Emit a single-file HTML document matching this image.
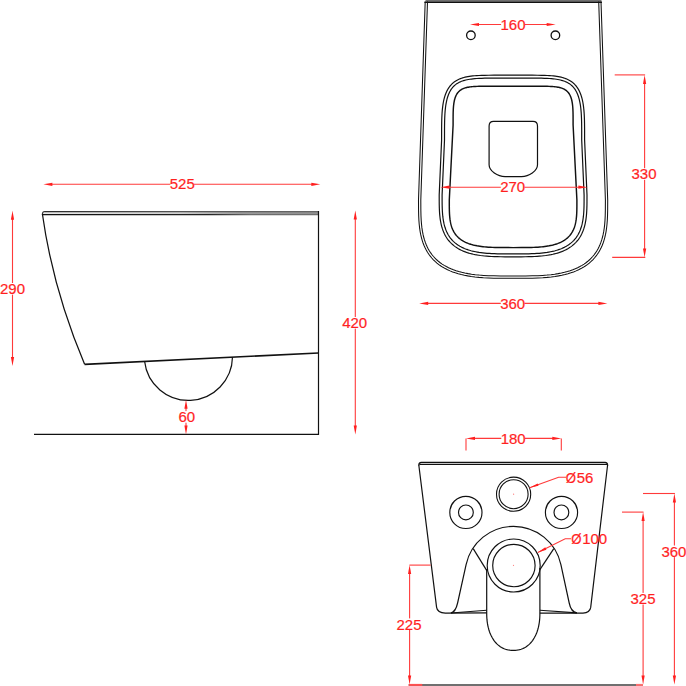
<!DOCTYPE html>
<html><head><meta charset="utf-8"><style>
html,body{margin:0;padding:0;background:#fff;}
svg{display:block;}
text{font-family:"Liberation Sans",sans-serif;font-size:15px;fill:#ff1f1f;stroke:#ff2a2a;stroke-width:0.22px;}
</style></head><body>
<svg width="686" height="686" viewBox="0 0 686 686">
<rect width="686" height="686" fill="#fff"/>
<defs><linearGradient id="rimfill" x1="42" x2="319" gradientUnits="userSpaceOnUse"><stop offset="0" stop-color="#e8e8e8"/><stop offset="0.5" stop-color="#d0d0d0"/><stop offset="0.72" stop-color="#9a9a9a"/><stop offset="1" stop-color="#909090"/></linearGradient><linearGradient id="rimtop" x1="42" x2="319" gradientUnits="userSpaceOnUse"><stop offset="0" stop-color="#2a2a2a"/><stop offset="0.5" stop-color="#555"/><stop offset="1" stop-color="#666"/></linearGradient><linearGradient id="rimbot" x1="42" x2="319" gradientUnits="userSpaceOnUse"><stop offset="0" stop-color="#111"/><stop offset="0.6" stop-color="#222"/><stop offset="0.75" stop-color="#6a6a6a"/><stop offset="1" stop-color="#707070"/></linearGradient></defs>
<path d="M42.4 215 L42.4 213.6 Q42.6 211.2 45 211.2 L318.8 211.2 L318.8 215 Z" fill="url(#rimfill)"/>
<line x1="44.5" y1="211.7" x2="318.8" y2="211.7" stroke="url(#rimtop)" stroke-width="1.3"/>
<line x1="42.4" y1="214.6" x2="318.8" y2="214.6" stroke="url(#rimbot)" stroke-width="1.2"/>
<path d="M42.4 214.6 Q42.4 211.3 45 211.5" stroke="#333" stroke-width="1.2" fill="none" />
<path d="M42.4 214 C49.5 264.5 63.5 314.3 84.6 364.3" stroke="#111" stroke-width="1.25" fill="none" />
<line x1="84.6" y1="364.3" x2="318.5" y2="353" stroke="#111" stroke-width="1.7"/>
<line x1="318.5" y1="211" x2="318.5" y2="434.9" stroke="#111" stroke-width="1.2"/>
<line x1="34" y1="434.3" x2="319" y2="434.3" stroke="#111" stroke-width="1.3"/>
<path d="M144.6 361.4 A44.1 44.1 0 0 0 232.5 357.1" stroke="#111" stroke-width="1.2" fill="none" />
<line x1="51.4" y1="184.3" x2="312.3" y2="184.3" stroke="#ff3a3a" stroke-width="1.1"/><path d="M43.4 184.3 L52.4 182.7 L52.4 185.9 Z" fill="#ff1f1f"/><path d="M320.3 184.3 L311.3 185.9 L311.3 182.7 Z" fill="#ff1f1f"/><rect x="170.39" y="177.8" width="23.72" height="11.6" fill="#fff"/><text x="182.3" y="189" text-anchor="middle" transform="matrix(1 0 0 1.03 0 -5.67)">525</text>
<line x1="12.5" y1="218.8" x2="12.5" y2="358" stroke="#ff3a3a" stroke-width="1.1"/><path d="M12.5 210.8 L14.1 219.8 L10.9 219.8 Z" fill="#ff1f1f"/><path d="M12.5 366 L10.9 357 L14.1 357 Z" fill="#ff1f1f"/><rect x="0.59" y="283" width="23.72" height="11.6" fill="#fff"/><text x="12.5" y="294.2" text-anchor="middle" transform="matrix(1 0 0 1.03 0 -8.83)">290</text>
<line x1="355.3" y1="218.5" x2="355.3" y2="426.5" stroke="#ff3a3a" stroke-width="1.1"/><path d="M355.3 210.5 L356.9 219.5 L353.7 219.5 Z" fill="#ff1f1f"/><path d="M355.3 434.5 L353.7 425.5 L356.9 425.5 Z" fill="#ff1f1f"/><rect x="342.79" y="317" width="23.72" height="11.6" fill="#fff"/><text x="354.7" y="328.2" text-anchor="middle" transform="matrix(1 0 0 1.03 0 -9.85)">420</text>
<line x1="186" y1="407.8" x2="186" y2="426.5" stroke="#ff3a3a" stroke-width="1.1"/><path d="M186 399.8 L187.6 408.8 L184.4 408.8 Z" fill="#ff1f1f"/><path d="M186 434.5 L184.4 425.5 L187.6 425.5 Z" fill="#ff1f1f"/><rect x="179.06" y="411.1" width="15.38" height="11.6" fill="#fff"/><text x="186.8" y="422.3" text-anchor="middle" transform="matrix(1 0 0 1.03 0 -12.67)">60</text>
<rect x="425.5" y="0" width="176" height="2" fill="#707070"/>
<line x1="424.4" y1="2.4" x2="602" y2="2.4" stroke="#111" stroke-width="1.1"/>
<path d="M425.2 1.5 L418.5 200 L418.55 210.35 L418.68 215.96 L418.91 220.54 L419.23 224.56 L419.64 228.19 L420.14 231.54 L420.74 234.66 L421.42 237.58 L422.2 240.34 L423.07 242.96 L424.03 245.44 L425.08 247.8 L426.23 250.05 L427.47 252.19 L428.81 254.23 L430.24 256.17 L431.76 258.02 L433.38 259.79 L435.1 261.46 L436.92 263.05 L438.84 264.56 L440.87 265.98 L443 267.32 L445.23 268.59 L447.58 269.77 L450.05 270.87 L452.64 271.9 L455.35 272.85 L458.2 273.72 L461.2 274.52 L464.36 275.24 L467.69 275.88 L471.23 276.45 L474.99 276.94 L479.04 277.36 L483.43 277.7 L488.28 277.96 L493.82 278.15 L500.59 278.26 L513.1 278.3 L525.61 278.26 L532.38 278.15 L537.92 277.96 L542.77 277.7 L547.16 277.36 L551.21 276.94 L554.97 276.45 L558.51 275.88 L561.84 275.24 L565 274.52 L568 273.72 L570.85 272.85 L573.56 271.9 L576.15 270.87 L578.62 269.77 L580.97 268.59 L583.2 267.32 L585.33 265.98 L587.36 264.56 L589.28 263.05 L591.1 261.46 L592.82 259.79 L594.44 258.02 L595.96 256.17 L597.39 254.23 L598.73 252.19 L599.97 250.05 L601.12 247.8 L602.17 245.44 L603.13 242.96 L604 240.34 L604.78 237.58 L605.46 234.66 L606.06 231.54 L606.56 228.19 L606.97 224.56 L607.29 220.54 L607.52 215.96 L607.65 210.35 L607.7 200 L601 1.5" stroke="#111" stroke-width="1.05" fill="none" />
<path d="M427.5 1.58 L420.8 200.07 L420.85 210.32 L420.98 215.87 L421.21 220.4 L421.52 224.34 L421.92 227.9 L422.41 231.16 L422.99 234.18 L423.65 237.01 L424.4 239.67 L425.23 242.18 L426.15 244.55 L427.16 246.81 L428.25 248.95 L429.43 250.98 L430.7 252.92 L432.05 254.76 L433.5 256.51 L435.03 258.18 L436.66 259.77 L438.39 261.28 L440.22 262.71 L442.14 264.07 L444.18 265.35 L446.32 266.56 L448.57 267.69 L450.94 268.76 L453.44 269.75 L456.07 270.67 L458.83 271.51 L461.75 272.29 L464.83 272.99 L468.09 273.62 L471.56 274.17 L475.26 274.66 L479.24 275.07 L483.58 275.4 L488.38 275.66 L493.88 275.85 L500.61 275.96 L513.1 276 L525.59 275.96 L532.32 275.85 L537.82 275.66 L542.62 275.4 L546.96 275.07 L550.94 274.66 L554.64 274.17 L558.11 273.62 L561.37 272.99 L564.45 272.29 L567.37 271.51 L570.13 270.67 L572.76 269.75 L575.26 268.76 L577.63 267.69 L579.88 266.56 L582.02 265.35 L584.06 264.07 L585.98 262.71 L587.81 261.28 L589.54 259.77 L591.17 258.18 L592.7 256.51 L594.15 254.76 L595.5 252.92 L596.77 250.98 L597.95 248.95 L599.04 246.81 L600.05 244.55 L600.97 242.18 L601.8 239.67 L602.55 237.01 L603.21 234.18 L603.79 231.16 L604.28 227.9 L604.68 224.34 L604.99 220.4 L605.22 215.87 L605.35 210.32 L605.4 200.07 L598.7 1.58" stroke="#111" stroke-width="1.05" fill="none" />
<path d="M513.1 75.2 L494.09 75.21 L488.64 75.25 L484.76 75.31 L481.65 75.39 L479 75.49 L476.68 75.62 L474.6 75.77 L472.71 75.95 L470.97 76.15 L469.36 76.37 L467.86 76.62 L466.45 76.89 L465.12 77.18 L463.87 77.5 L462.68 77.84 L461.55 78.21 L460.47 78.6 L459.45 79.02 L458.47 79.46 L457.53 79.92 L456.63 80.42 L455.77 80.93 L454.95 81.47 L454.16 82.04 L453.41 82.63 L452.68 83.25 L451.99 83.9 L451.32 84.57 L450.68 85.27 L450.07 86 L449.48 86.76 L448.92 87.55 L448.38 88.37 L447.86 89.22 L447.37 90.1 L446.9 91.01 L446.46 91.96 L446.03 92.94 L445.63 93.95 L445.24 95.01 L444.88 96.1 L444.54 97.24 L444.22 98.42 L443.91 99.64 L443.63 100.91 L443.36 102.24 L443.12 103.63 L442.89 105.07 L442.69 106.59 L442.5 108.19 L442.32 109.87 L442.17 111.65 L442.04 113.55 L441.92 115.59 L441.82 117.81 L441.74 120.26 L441.68 123.03 L441.64 126.28 L441.61 130.47 L441.6 140 L439.2 195 L439.22 201.79 L439.26 205.34 L439.34 208.22 L439.45 210.72 L439.58 212.99 L439.75 215.08 L439.95 217.02 L440.18 218.86 L440.44 220.59 L440.74 222.24 L441.06 223.82 L441.41 225.33 L441.8 226.78 L442.21 228.18 L442.66 229.53 L443.14 230.83 L443.65 232.08 L444.19 233.29 L444.76 234.47 L445.37 235.6 L446.01 236.7 L446.67 237.76 L447.37 238.79 L448.11 239.78 L448.87 240.75 L449.67 241.68 L450.5 242.58 L451.37 243.44 L452.27 244.28 L453.2 245.09 L454.17 245.87 L455.17 246.62 L456.21 247.35 L457.29 248.04 L458.4 248.71 L459.55 249.35 L460.74 249.96 L461.97 250.55 L463.24 251.11 L464.55 251.64 L465.91 252.15 L467.31 252.63 L468.76 253.08 L470.26 253.5 L471.81 253.9 L473.42 254.28 L475.09 254.63 L476.83 254.95 L478.64 255.24 L480.52 255.52 L482.5 255.76 L484.57 255.98 L486.76 256.17 L489.09 256.34 L491.59 256.48 L494.3 256.59 L497.3 256.68 L500.74 256.75 L504.98 256.79 L513.1 256.8 L521.22 256.79 L525.46 256.75 L528.9 256.68 L531.9 256.59 L534.61 256.48 L537.11 256.34 L539.44 256.17 L541.63 255.98 L543.7 255.76 L545.68 255.52 L547.56 255.24 L549.37 254.95 L551.11 254.63 L552.78 254.28 L554.39 253.9 L555.94 253.5 L557.44 253.08 L558.89 252.63 L560.29 252.15 L561.65 251.64 L562.96 251.11 L564.23 250.55 L565.46 249.96 L566.65 249.35 L567.8 248.71 L568.91 248.04 L569.99 247.35 L571.03 246.62 L572.03 245.87 L573 245.09 L573.93 244.28 L574.83 243.44 L575.7 242.58 L576.53 241.68 L577.33 240.75 L578.09 239.78 L578.83 238.79 L579.53 237.76 L580.19 236.7 L580.83 235.6 L581.44 234.47 L582.01 233.29 L582.55 232.08 L583.06 230.83 L583.54 229.53 L583.99 228.18 L584.4 226.78 L584.79 225.33 L585.14 223.82 L585.46 222.24 L585.76 220.59 L586.02 218.86 L586.25 217.02 L586.45 215.08 L586.62 212.99 L586.75 210.72 L586.86 208.22 L586.94 205.34 L586.98 201.79 L587 195 L584.6 140 L584.59 130.47 L584.56 126.28 L584.52 123.03 L584.46 120.26 L584.38 117.81 L584.28 115.59 L584.16 113.55 L584.03 111.65 L583.88 109.87 L583.7 108.19 L583.51 106.59 L583.31 105.07 L583.08 103.63 L582.84 102.24 L582.57 100.91 L582.29 99.64 L581.98 98.42 L581.66 97.24 L581.32 96.1 L580.96 95.01 L580.57 93.95 L580.17 92.94 L579.74 91.96 L579.3 91.01 L578.83 90.1 L578.34 89.22 L577.82 88.37 L577.28 87.55 L576.72 86.76 L576.13 86 L575.52 85.27 L574.88 84.57 L574.21 83.9 L573.52 83.25 L572.79 82.63 L572.04 82.04 L571.25 81.47 L570.43 80.93 L569.57 80.42 L568.67 79.92 L567.73 79.46 L566.75 79.02 L565.73 78.6 L564.65 78.21 L563.52 77.84 L562.33 77.5 L561.08 77.18 L559.75 76.89 L558.34 76.62 L556.84 76.37 L555.23 76.15 L553.49 75.95 L551.6 75.77 L549.52 75.62 L547.2 75.49 L544.55 75.39 L541.44 75.31 L537.56 75.25 L532.11 75.21Z" stroke="#111" stroke-width="1.2" fill="none" />
<path d="M513.1 78.1 L494.09 78.11 L488.67 78.15 L484.82 78.2 L481.74 78.29 L479.14 78.39 L476.87 78.52 L474.84 78.66 L473.01 78.83 L471.34 79.03 L469.8 79.24 L468.37 79.47 L467.04 79.73 L465.79 80.01 L464.63 80.3 L463.53 80.62 L462.49 80.95 L461.51 81.31 L460.59 81.69 L459.71 82.08 L458.87 82.5 L458.08 82.93 L457.32 83.39 L456.6 83.86 L455.91 84.36 L455.24 84.88 L454.61 85.42 L454 85.98 L453.42 86.57 L452.86 87.18 L452.32 87.83 L451.81 88.49 L451.31 89.19 L450.83 89.92 L450.37 90.68 L449.93 91.47 L449.5 92.29 L449.1 93.15 L448.71 94.05 L448.34 94.98 L447.98 95.96 L447.65 96.98 L447.33 98.04 L447.02 99.15 L446.74 100.3 L446.47 101.51 L446.21 102.78 L445.98 104.1 L445.76 105.49 L445.56 106.96 L445.38 108.5 L445.21 110.14 L445.06 111.87 L444.93 113.73 L444.82 115.74 L444.72 117.92 L444.64 120.34 L444.58 123.08 L444.54 126.31 L444.51 130.48 L444.5 140.11 L442.1 195.11 L442.12 201.78 L442.16 205.28 L442.24 208.12 L442.34 210.58 L442.48 212.79 L442.64 214.81 L442.83 216.7 L443.06 218.46 L443.31 220.12 L443.59 221.7 L443.89 223.2 L444.23 224.63 L444.59 226 L444.98 227.31 L445.4 228.57 L445.85 229.78 L446.32 230.95 L446.82 232.07 L447.35 233.15 L447.9 234.19 L448.49 235.2 L449.1 236.17 L449.74 237.11 L450.41 238.02 L451.11 238.9 L451.84 239.75 L452.6 240.57 L453.39 241.36 L454.21 242.13 L455.06 242.87 L455.95 243.58 L456.87 244.27 L457.83 244.94 L458.82 245.58 L459.85 246.2 L460.92 246.79 L462.03 247.37 L463.17 247.91 L464.36 248.44 L465.6 248.94 L466.88 249.41 L468.21 249.87 L469.59 250.3 L471.02 250.71 L472.5 251.09 L474.05 251.45 L475.65 251.78 L477.33 252.09 L479.08 252.38 L480.91 252.64 L482.83 252.88 L484.85 253.09 L486.99 253.28 L489.28 253.44 L491.73 253.58 L494.4 253.7 L497.37 253.79 L500.77 253.85 L504.99 253.89 L513.1 253.9 L521.21 253.89 L525.43 253.85 L528.83 253.79 L531.8 253.7 L534.47 253.58 L536.92 253.44 L539.21 253.28 L541.35 253.09 L543.37 252.88 L545.29 252.64 L547.12 252.38 L548.87 252.09 L550.55 251.78 L552.15 251.45 L553.7 251.09 L555.18 250.71 L556.61 250.3 L557.99 249.87 L559.32 249.41 L560.6 248.94 L561.84 248.44 L563.03 247.91 L564.17 247.37 L565.28 246.79 L566.35 246.2 L567.38 245.58 L568.37 244.94 L569.33 244.27 L570.25 243.58 L571.14 242.87 L571.99 242.13 L572.81 241.36 L573.6 240.57 L574.36 239.75 L575.09 238.9 L575.79 238.02 L576.46 237.11 L577.1 236.17 L577.71 235.2 L578.3 234.19 L578.85 233.15 L579.38 232.07 L579.88 230.95 L580.35 229.78 L580.8 228.57 L581.22 227.31 L581.61 226 L581.97 224.63 L582.31 223.2 L582.61 221.7 L582.89 220.12 L583.14 218.46 L583.37 216.7 L583.56 214.81 L583.72 212.79 L583.86 210.58 L583.96 208.12 L584.04 205.28 L584.08 201.78 L584.1 195.11 L581.7 140.11 L581.69 130.48 L581.66 126.31 L581.62 123.08 L581.56 120.34 L581.48 117.92 L581.38 115.74 L581.27 113.73 L581.14 111.87 L580.99 110.14 L580.82 108.5 L580.64 106.96 L580.44 105.49 L580.22 104.1 L579.99 102.78 L579.73 101.51 L579.46 100.3 L579.18 99.15 L578.87 98.04 L578.55 96.98 L578.22 95.96 L577.86 94.98 L577.49 94.05 L577.1 93.15 L576.7 92.29 L576.27 91.47 L575.83 90.68 L575.37 89.92 L574.89 89.19 L574.39 88.49 L573.88 87.83 L573.34 87.18 L572.78 86.57 L572.2 85.98 L571.59 85.42 L570.96 84.88 L570.29 84.36 L569.6 83.86 L568.88 83.39 L568.12 82.93 L567.33 82.5 L566.49 82.08 L565.61 81.69 L564.69 81.31 L563.71 80.95 L562.67 80.62 L561.57 80.3 L560.41 80.01 L559.16 79.73 L557.83 79.47 L556.4 79.24 L554.86 79.03 L553.19 78.83 L551.36 78.66 L549.33 78.52 L547.06 78.39 L544.46 78.29 L541.38 78.2 L537.53 78.15 L532.11 78.11Z" stroke="#111" stroke-width="1.2" fill="none" />
<path d="M513.09 86.2 L488.97 86.21 L484.4 86.23 L481.35 86.26 L478.98 86.31 L477.04 86.37 L475.37 86.44 L473.9 86.53 L472.58 86.63 L471.39 86.74 L470.3 86.87 L469.3 87.01 L468.37 87.16 L467.49 87.33 L466.68 87.51 L465.91 87.71 L465.18 87.92 L464.5 88.14 L463.85 88.38 L463.23 88.63 L462.65 88.89 L462.09 89.17 L461.56 89.47 L461.05 89.78 L460.56 90.1 L460.1 90.44 L459.66 90.8 L459.24 91.17 L458.83 91.55 L458.45 91.95 L458.08 92.37 L457.73 92.81 L457.39 93.26 L457.07 93.73 L456.77 94.22 L456.47 94.73 L456.2 95.25 L455.93 95.8 L455.68 96.37 L455.44 96.95 L455.22 97.56 L455.01 98.2 L454.81 98.86 L454.62 99.54 L454.44 100.25 L454.28 101 L454.12 101.77 L453.98 102.58 L453.85 103.43 L453.73 104.32 L453.62 105.26 L453.52 106.25 L453.43 107.31 L453.35 108.44 L453.29 109.65 L453.23 110.98 L453.18 112.46 L453.15 114.13 L453.12 116.12 L453.11 118.72 L453.1 125 L449.3 200 L449.31 206.29 L449.35 209.24 L449.41 211.57 L449.49 213.57 L449.6 215.36 L449.74 216.98 L449.9 218.49 L450.08 219.89 L450.29 221.21 L450.52 222.46 L450.77 223.65 L451.05 224.79 L451.36 225.88 L451.69 226.92 L452.05 227.92 L452.43 228.88 L452.83 229.8 L453.26 230.7 L453.72 231.56 L454.2 232.39 L454.71 233.19 L455.24 233.96 L455.8 234.71 L456.39 235.43 L457 236.13 L457.64 236.8 L458.31 237.45 L459 238.08 L459.72 238.68 L460.47 239.26 L461.25 239.82 L462.06 240.36 L462.9 240.88 L463.77 241.38 L464.68 241.86 L465.61 242.31 L466.58 242.75 L467.58 243.17 L468.62 243.57 L469.69 243.94 L470.8 244.3 L471.96 244.64 L473.15 244.97 L474.39 245.27 L475.68 245.55 L477.02 245.82 L478.42 246.06 L479.87 246.29 L481.4 246.5 L482.99 246.69 L484.67 246.86 L486.44 247.02 L488.32 247.16 L490.34 247.27 L492.52 247.37 L494.91 247.45 L497.59 247.52 L500.71 247.56 L504.67 247.59 L513.1 247.6 L521.53 247.59 L525.49 247.56 L528.61 247.52 L531.29 247.45 L533.68 247.37 L535.86 247.27 L537.88 247.16 L539.76 247.02 L541.53 246.86 L543.21 246.69 L544.8 246.5 L546.33 246.29 L547.78 246.06 L549.18 245.82 L550.52 245.55 L551.81 245.27 L553.05 244.97 L554.24 244.64 L555.4 244.3 L556.51 243.94 L557.58 243.57 L558.62 243.17 L559.62 242.75 L560.59 242.31 L561.52 241.86 L562.43 241.38 L563.3 240.88 L564.14 240.36 L564.95 239.82 L565.73 239.26 L566.48 238.68 L567.2 238.08 L567.89 237.45 L568.56 236.8 L569.2 236.13 L569.81 235.43 L570.4 234.71 L570.96 233.96 L571.49 233.19 L572 232.39 L572.48 231.56 L572.94 230.7 L573.37 229.8 L573.77 228.88 L574.15 227.92 L574.51 226.92 L574.84 225.88 L575.15 224.79 L575.43 223.65 L575.68 222.46 L575.91 221.21 L576.12 219.89 L576.3 218.49 L576.46 216.98 L576.6 215.36 L576.71 213.57 L576.79 211.57 L576.85 209.24 L576.89 206.29 L576.9 200 L573.1 125 L573.09 118.72 L573.08 116.12 L573.05 114.13 L573.02 112.46 L572.97 110.98 L572.91 109.65 L572.85 108.44 L572.77 107.31 L572.68 106.25 L572.58 105.26 L572.47 104.32 L572.35 103.43 L572.22 102.58 L572.08 101.77 L571.92 101 L571.76 100.25 L571.58 99.54 L571.39 98.86 L571.19 98.2 L570.98 97.56 L570.76 96.95 L570.52 96.37 L570.27 95.8 L570 95.25 L569.73 94.73 L569.43 94.22 L569.13 93.73 L568.81 93.26 L568.47 92.81 L568.12 92.37 L567.75 91.95 L567.37 91.55 L566.96 91.17 L566.54 90.8 L566.1 90.44 L565.64 90.1 L565.15 89.78 L564.64 89.47 L564.11 89.17 L563.55 88.89 L562.97 88.63 L562.35 88.38 L561.7 88.14 L561.02 87.92 L560.29 87.71 L559.52 87.51 L558.71 87.33 L557.83 87.16 L556.9 87.01 L555.9 86.87 L554.81 86.74 L553.62 86.63 L552.3 86.53 L550.83 86.44 L549.16 86.37 L547.22 86.31 L544.85 86.26 L541.8 86.23 L537.23 86.21Z" stroke="#111" stroke-width="1.45" fill="none" />
<circle cx="470.9" cy="35.3" r="4.3" stroke="#111" stroke-width="1.3" fill="none"/>
<circle cx="555.4" cy="35.3" r="4.3" stroke="#111" stroke-width="1.3" fill="none"/>
<path d="M489.1 126 Q489.1 121.3 493.6 121.3 L533 121.3 Q537.5 121.3 537.5 126 L537.5 164.8 C537.5 171 529 176.6 521.5 176.6 L505.1 176.6 C497.6 176.6 489.1 171 489.1 164.8 Z" stroke="#111" stroke-width="1.2" fill="none" />
<line x1="478" y1="24.5" x2="547.7" y2="24.5" stroke="#ff3a3a" stroke-width="1.1"/><path d="M470 24.5 L479 22.9 L479 26.1 Z" fill="#ff1f1f"/><path d="M555.7 24.5 L546.7 26.1 L546.7 22.9 Z" fill="#ff1f1f"/><rect x="501.09" y="18.9" width="23.72" height="11.6" fill="#fff"/><text x="513" y="30.1" text-anchor="middle" transform="matrix(1 0 0 1.03 0 -0.9)">160</text>
<line x1="448.5" y1="187.2" x2="579.4" y2="187.2" stroke="#ff3a3a" stroke-width="1.1"/><path d="M440.5 187.2 L449.5 185.6 L449.5 188.8 Z" fill="#ff1f1f"/><path d="M587.4 187.2 L578.4 188.8 L578.4 185.6 Z" fill="#ff1f1f"/><rect x="500.79" y="180.4" width="23.72" height="11.6" fill="#fff"/><text x="512.7" y="191.6" text-anchor="middle" transform="matrix(1 0 0 1.03 0 -5.75)">270</text>
<line x1="614.7" y1="74.9" x2="645.1" y2="74.9" stroke="#ff3a3a" stroke-width="1.1"/>
<line x1="612.2" y1="257.4" x2="645.3" y2="257.4" stroke="#ff3a3a" stroke-width="1.1"/>
<line x1="644.6" y1="82.9" x2="644.6" y2="249.4" stroke="#ff3a3a" stroke-width="1.1"/><path d="M644.6 74.9 L646.2 83.9 L643 83.9 Z" fill="#ff1f1f"/><path d="M644.6 257.4 L643 248.4 L646.2 248.4 Z" fill="#ff1f1f"/><rect x="632.09" y="168.2" width="23.72" height="11.6" fill="#fff"/><text x="644" y="179.4" text-anchor="middle" transform="matrix(1 0 0 1.03 0 -5.38)">330</text>
<line x1="427.2" y1="303.4" x2="599.4" y2="303.4" stroke="#ff3a3a" stroke-width="1.1"/><path d="M419.2 303.4 L428.2 301.8 L428.2 305 Z" fill="#ff1f1f"/><path d="M607.4 303.4 L598.4 305 L598.4 301.8 Z" fill="#ff1f1f"/><rect x="500.79" y="297.8" width="23.72" height="11.6" fill="#fff"/><text x="512.7" y="309" text-anchor="middle" transform="matrix(1 0 0 1.03 0 -9.27)">360</text>
<path d="M418.8 465.5 Q418.8 462.5 421.3 462.5 L605.1 462.5 Q607.6 462.5 607.6 465.5" stroke="#111" stroke-width="1.3" fill="none" />
<line x1="419.5" y1="464.5" x2="607" y2="464.5" stroke="#111" stroke-width="1.0"/>
<path d="M418.8 465 L436.6 607.4 Q437.4 612.9 445.3 613.2 L486.7 612.9" stroke="#111" stroke-width="1.2" fill="none" />
<path d="M607.6 465 L590.7 607.4 Q589.9 612.8 583 613.1 L539.9 613.2" stroke="#111" stroke-width="1.2" fill="none" />
<circle cx="465.9" cy="512.4" r="16.1" stroke="#111" stroke-width="1.15" fill="none"/>
<circle cx="465.9" cy="512.4" r="7.4" stroke="#111" stroke-width="1.15" fill="none"/>
<circle cx="561.5" cy="512.4" r="16.1" stroke="#111" stroke-width="1.15" fill="none"/>
<circle cx="561.4" cy="512.4" r="7.4" stroke="#111" stroke-width="1.15" fill="none"/>
<circle cx="513.6" cy="494.2" r="17.1" stroke="#111" stroke-width="1.1" fill="none"/>
<circle cx="513.6" cy="494.2" r="14.5" stroke="#111" stroke-width="1.1" fill="none"/>
<circle cx="513.6" cy="494.2" r="0.6" fill="#f77"/>
<circle cx="513.7" cy="565.5" r="26.5" stroke="#111" stroke-width="1.15" fill="none"/>
<circle cx="513.9" cy="565.5" r="21.2" stroke="#111" stroke-width="1.15" fill="none"/>
<circle cx="513.5" cy="565.3" r="0.6" fill="#f77"/>
<path d="M450.9 613 Q455.6 612 457.6 603 L466.1 564.6 A48.5 48.5 0 0 1 560.9 564.6 L569.2 603 Q571 612 576.9 612.9" stroke="#111" stroke-width="1.2" fill="none" />
<line x1="473.2" y1="548.6" x2="486.8" y2="570.6" stroke="#111" stroke-width="1.2"/>
<line x1="553.8" y1="548.6" x2="539.9" y2="569.6" stroke="#111" stroke-width="1.2"/>
<path d="M486.7 569 L486.7 613 L486.73 615.56 L486.83 617.8 L487 619.93 L487.23 621.97 L487.53 623.95 L487.89 625.86 L488.31 627.71 L488.8 629.51 L489.35 631.24 L489.96 632.92 L490.63 634.53 L491.36 636.07 L492.15 637.55 L492.99 638.96 L493.89 640.29 L494.84 641.55 L495.84 642.74 L496.89 643.85 L497.99 644.87 L499.13 645.82 L500.33 646.68 L501.56 647.45 L502.84 648.13 L504.15 648.73 L505.52 649.24 L506.92 649.66 L508.37 649.98 L509.89 650.21 L511.48 650.35 L513.3 650.4 L515.12 650.35 L516.71 650.21 L518.23 649.98 L519.68 649.66 L521.08 649.24 L522.45 648.73 L523.76 648.13 L525.04 647.45 L526.27 646.68 L527.47 645.82 L528.61 644.87 L529.71 643.85 L530.76 642.74 L531.76 641.55 L532.71 640.29 L533.61 638.96 L534.45 637.55 L535.24 636.07 L535.97 634.53 L536.64 632.92 L537.25 631.24 L537.8 629.51 L538.29 627.71 L538.71 625.86 L539.07 623.95 L539.37 621.97 L539.6 619.93 L539.77 617.8 L539.87 615.56 L539.9 613 L539.9 568" stroke="#111" stroke-width="1.2" fill="none" />
<path d="M450.9 613 L486.7 610.3" stroke="#111" stroke-width="1.1" fill="none" />
<path d="M576.9 612.9 L539.9 610.3" stroke="#111" stroke-width="1.1" fill="none" />
<line x1="408.7" y1="684.9" x2="643" y2="684.9" stroke="#707070" stroke-width="2.0"/>
<line x1="408.7" y1="684.9" x2="422.3" y2="684.9" stroke="#ff5050" stroke-width="2.0"/>
<line x1="636" y1="684.9" x2="643" y2="684.9" stroke="#ff7070" stroke-width="2.0"/>
<line x1="474" y1="438.4" x2="553.3" y2="438.4" stroke="#ff3a3a" stroke-width="1.1"/><path d="M466 438.4 L475 436.8 L475 440 Z" fill="#ff1f1f"/><path d="M561.3 438.4 L552.3 440 L552.3 436.8 Z" fill="#ff1f1f"/><rect x="501.29" y="433" width="23.72" height="11.6" fill="#fff"/><text x="513.2" y="444.2" text-anchor="middle" transform="matrix(1 0 0 1.03 0 -13.33)">180</text>
<line x1="466" y1="438.4" x2="466" y2="450.6" stroke="#ff3a3a" stroke-width="1.1"/>
<line x1="561.3" y1="438.4" x2="561.3" y2="450.6" stroke="#ff3a3a" stroke-width="1.1"/>
<path d="M529.6 487.7 L558.6 477.2 L566 477.2" stroke="#ff3a3a" stroke-width="1.1" fill="none"/>
<path d="M529.6 487.7 L537.62 483.41 L538.51 485.86 Z" fill="#ff1f1f"/>
<text x="576.67" y="483.1" text-anchor="start" transform="matrix(1 0 0 1.03 0 -14.49)">56</text>
<text x="0" y="0" transform="matrix(0.88 0 0 1.03 565.8 483.1)">&#216;</text>
<path d="M537.8 552.6 L565.2 538.7 L571 538.7" stroke="#ff3a3a" stroke-width="1.1" fill="none"/>
<path d="M537.8 552.6 L545.27 547.35 L546.45 549.68 Z" fill="#ff1f1f"/>
<text x="582.17" y="544.4" text-anchor="start" transform="matrix(1 0 0 1.03 0 -16.33)">100</text>
<text x="0" y="0" transform="matrix(0.88 0 0 1.03 571.2 544.4)">&#216;</text>
<line x1="643" y1="493.5" x2="674.9" y2="493.5" stroke="#ff3a3a" stroke-width="1.1"/>
<line x1="674.4" y1="501.5" x2="674.4" y2="676.5" stroke="#ff3a3a" stroke-width="1.1"/><path d="M674.4 493.5 L676 502.5 L672.8 502.5 Z" fill="#ff1f1f"/><path d="M674.4 684.5 L672.8 675.5 L676 675.5 Z" fill="#ff1f1f"/><rect x="661.99" y="545.5" width="23.72" height="11.6" fill="#fff"/><text x="673.9" y="556.7" text-anchor="middle" transform="matrix(1 0 0 1.03 0 -16.7)">360</text>
<line x1="622" y1="512.1" x2="643.5" y2="512.1" stroke="#ff3a3a" stroke-width="1.1"/>
<line x1="643.1" y1="520.1" x2="643.1" y2="676.5" stroke="#ff3a3a" stroke-width="1.1"/><path d="M643.1 512.1 L644.7 521.1 L641.5 521.1 Z" fill="#ff1f1f"/><path d="M643.1 684.5 L641.5 675.5 L644.7 675.5 Z" fill="#ff1f1f"/><rect x="631.09" y="592.9" width="23.72" height="11.6" fill="#fff"/><text x="643" y="604.1" text-anchor="middle" transform="matrix(1 0 0 1.03 0 -18.12)">325</text>
<line x1="409.4" y1="565.1" x2="430.6" y2="565.1" stroke="#ff3a3a" stroke-width="1.1"/>
<line x1="409.6" y1="573.1" x2="409.6" y2="676.5" stroke="#ff3a3a" stroke-width="1.1"/><path d="M409.6 565.1 L411.2 574.1 L408 574.1 Z" fill="#ff1f1f"/><path d="M409.6 684.5 L408 675.5 L411.2 675.5 Z" fill="#ff1f1f"/><rect x="397.09" y="618.4" width="23.72" height="11.6" fill="#fff"/><text x="409" y="629.6" text-anchor="middle" transform="matrix(1 0 0 1.03 0 -18.89)">225</text>
</svg>
</body></html>
